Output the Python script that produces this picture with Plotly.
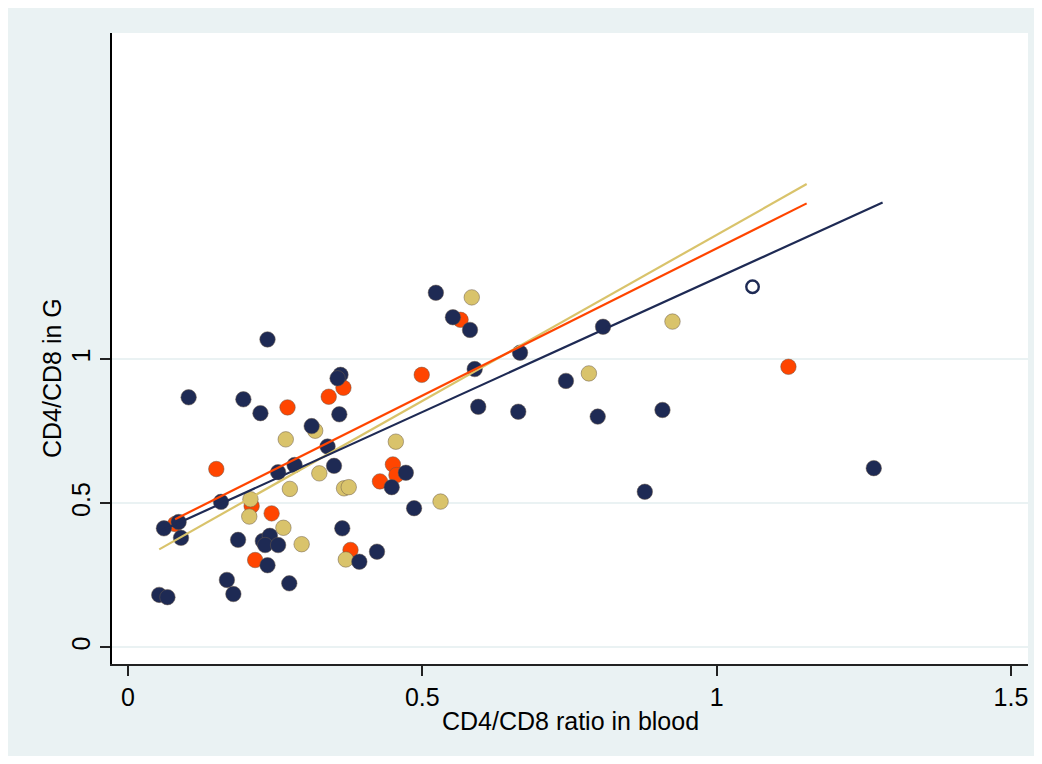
import plotly.graph_objects as go

# ---- data ----
navy_x = [0.053, 0.067, 0.061, 0.086, 0.090, 0.103, 0.158, 0.168, 0.179, 0.187,
          0.196, 0.225, 0.237, 0.229, 0.241, 0.233, 0.255, 0.237, 0.274, 0.255,
          0.283, 0.350, 0.364, 0.359, 0.361, 0.356, 0.312, 0.339, 0.523, 0.552,
          0.581, 0.589, 0.666, 0.595, 0.663, 0.472, 0.448, 0.486, 0.423, 0.393,
          0.807, 0.744, 0.798, 0.908, 0.878, 1.267]
navy_y = [0.182, 0.174, 0.413, 0.435, 0.380, 0.868, 0.505, 0.234, 0.185, 0.373,
          0.861, 0.813, 1.069, 0.369, 0.387, 0.355, 0.355, 0.285, 0.222, 0.608,
          0.633, 0.630, 0.413, 0.809, 0.946, 0.934, 0.768, 0.697, 1.231, 1.146,
          1.102, 0.966, 1.023, 0.835, 0.818, 0.606, 0.556, 0.483, 0.332, 0.297,
          1.113, 0.925, 0.801, 0.824, 0.540, 0.622]

khaki_x = [0.268, 0.318, 0.325, 0.208, 0.206, 0.264, 0.275, 0.295, 0.367, 0.375,
           0.370, 0.531, 0.455, 0.584, 0.783, 0.925]
khaki_y = [0.722, 0.752, 0.604, 0.514, 0.454, 0.415, 0.550, 0.358, 0.552, 0.556,
           0.305, 0.506, 0.714, 1.215, 0.951, 1.131]

orange_x = [0.150, 0.210, 0.244, 0.216, 0.271, 0.341, 0.366, 0.499, 0.565, 0.450,
            0.456, 0.428, 0.378, 1.122, 0.080]
orange_y = [0.619, 0.491, 0.465, 0.303, 0.833, 0.870, 0.901, 0.946, 1.137, 0.635,
            0.598, 0.576, 0.338, 0.974, 0.428]

open_x = [1.061]
open_y = [1.252]

# linear fit lines: intercept, slope, x-range
fit_navy = {"a": 0.352, "b": 0.930, "xmin": 0.053, "xmax": 1.282}
fit_orange = {"a": 0.363, "b": 1.022, "xmin": 0.080, "xmax": 1.153}
fit_khaki = {"a": 0.279, "b": 1.153, "xmin": 0.053, "xmax": 1.153}

x_ticks = [0, 0.5, 1, 1.5]
x_ticklabels = ["0", "0.5", "1", "1.5"]
y_ticks = [0, 0.5, 1]
y_ticklabels = ["0", "0.5", "1"]

NAVY = "#1E2A54"
ORANGE = "#FF4500"
KHAKI = "#D9C36B"
BG = "#EAF2F3"
FONT = "Liberation Sans, Arial, Helvetica, sans-serif"

fig = go.Figure()

def scatter(x, y, color, name):
    fig.add_trace(go.Scatter(x=x, y=y, mode="markers", name=name,
                             marker=dict(size=15.5, color=color,
                                         line=dict(width=0.5, color="#6a5a4a")),
                             hoverinfo="x+y"))

scatter(orange_x, orange_y, ORANGE, "group 2")
scatter(khaki_x, khaki_y, KHAKI, "group 3")
scatter(navy_x, navy_y, NAVY, "group 1")

fig.add_trace(go.Scatter(x=open_x, y=open_y, mode="markers", name="excluded",
                         marker=dict(size=12.5, color="white",
                                     line=dict(width=2.4, color=NAVY))))

def fit_line(f, color, name):
    xs = [f["xmin"], f["xmax"]]
    ys = [f["a"] + f["b"] * v for v in xs]
    fig.add_trace(go.Scatter(x=xs, y=ys, mode="lines", name=name,
                             line=dict(color=color, width=2.2)))

fit_line(fit_khaki, KHAKI, "fit 3")
fit_line(fit_orange, ORANGE, "fit 2")
fit_line(fit_navy, NAVY, "fit 1")

# page has an 8px body margin; figure coordinates = page - 8
OFF = 8
W, H = 1026, 748
L, T = 112 - OFF, 33 - OFF
R = W - (1028 - OFF)
B = H - (664 - OFF)
pw, ph = W - L - R, H - T - B

def px(xpage):
    return (xpage - OFF - L) / pw

def py(ypage):
    return (H - B - (ypage - OFF)) / ph

fig.add_annotation(text="CD4/CD8 in G", xref="paper", yref="paper",
                   x=px(52), y=py(378), textangle=-90, showarrow=False,
                   font=dict(family=FONT, size=25, color="black"),
                   xanchor="center", yanchor="middle")
fig.add_annotation(text="CD4/CD8 ratio in blood", xref="paper", yref="paper",
                   x=px(570), y=py(721), showarrow=False,
                   font=dict(family=FONT, size=25, color="black"),
                   xanchor="center", yanchor="middle")

fig.update_layout(
    width=W, height=H,
    margin=dict(l=L, r=R, t=T, b=B, pad=0),
    paper_bgcolor=BG, plot_bgcolor="white",
    showlegend=False,
    font=dict(family=FONT, size=25, color="black"),
    xaxis=dict(range=[-0.0272, 1.529], tickvals=x_ticks, ticktext=x_ticklabels,
               showgrid=False, zeroline=False, showline=True, linecolor="#222",
               linewidth=1.5, ticks="outside", ticklen=10, tickwidth=1.5,
               tickcolor="#222", tickfont=dict(size=25)),
    yaxis=dict(range=[-0.058, 2.133], tickvals=y_ticks, ticktext=y_ticklabels,
               showgrid=True, gridcolor=BG, gridwidth=2, zeroline=False,
               showline=True, linecolor="black", linewidth=1.5,
               ticks="outside", ticklen=10, tickwidth=1.5, tickcolor="#222",
               tickangle=-90, tickfont=dict(size=25)),
)

fig.write_html("out.html")
